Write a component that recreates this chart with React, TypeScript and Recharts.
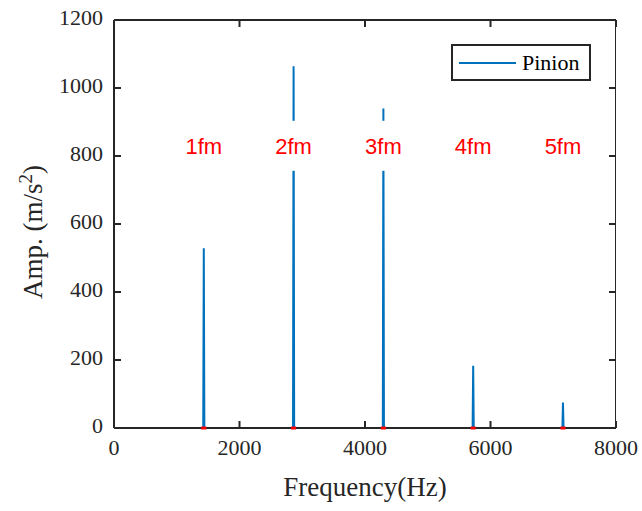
import React from "react";
import {
  LineChart,
  Line,
  Scatter,
  XAxis,
  YAxis,
} from "recharts";

// Mesh-frequency harmonics (Hz) and their peak amplitudes (m/s^2)
const harmonicFreqs = [1431, 2862, 4293, 5724, 7155];
const harmonicAmps = [529, 1064, 940, 183, 75];
const harmonicLabels = ["1fm", "2fm", "3fm", "4fm", "5fm"];
const labelLevel = 830;

const xTicks = [0, 2000, 4000, 6000, 8000];
const yTicks = [0, 200, 400, 600, 800, 1000, 1200];
const X_MAX = 8000;
const Y_MAX = 1200;

const SPIKE_HALF_WIDTH = 9; // Hz, base half-width of each spectral line

const AXIS_COLOR = "#262626";
const LINE_COLOR = "#0072BD";
const SERIF = "'Liberation Serif', 'Times New Roman', serif";
const SANS = "'Liberation Sans', Arial, sans-serif";

// plot box size, used to mirror the inward ticks and close the box
const PLOT_W = 502;
const PLOT_H = 408;

// spectrum: flat floor with a narrow peak at each harmonic
const spectrum: { freq: number; amp: number }[] = [{ freq: 0, amp: 0 }];
harmonicFreqs.forEach((f, i) => {
  spectrum.push({ freq: f - SPIKE_HALF_WIDTH, amp: 0 });
  spectrum.push({ freq: f, amp: harmonicAmps[i] });
  spectrum.push({ freq: f + SPIKE_HALF_WIDTH, amp: 0 });
});
spectrum.push({ freq: X_MAX, amp: 0 });

const baseMarkers = harmonicFreqs.map((f) => ({ freq: f, amp: 0 }));
const labelPoints = harmonicFreqs.map((f, i) => ({
  freq: f,
  amp: labelLevel,
  text: harmonicLabels[i],
}));
// top-left corner of the axes box, anchors the frame outline
const frameCorner = [{ freq: 0, amp: Y_MAX }];

const TICK_LEN = 7;

function BottomTick({ x, y, payload }: any) {
  return (
    <g>
      <line x1={x} x2={x} y1={y} y2={y - TICK_LEN} stroke={AXIS_COLOR} strokeWidth={2} />
      <line x1={x} x2={x} y1={y - PLOT_H} y2={y - PLOT_H + TICK_LEN} stroke={AXIS_COLOR} strokeWidth={2} />
      <text
        x={x}
        y={y + 27}
        textAnchor="middle"
        fontFamily={SERIF}
        fontSize={22}
        fill={AXIS_COLOR}
      >
        {payload.value}
      </text>
    </g>
  );
}

function LeftTick({ x, y, payload }: any) {
  return (
    <g>
      <line x1={x} x2={x + TICK_LEN} y1={y} y2={y} stroke={AXIS_COLOR} strokeWidth={2} />
      <line x1={x + PLOT_W} x2={x + PLOT_W - TICK_LEN} y1={y} y2={y} stroke={AXIS_COLOR} strokeWidth={2} />
      <text
        x={x - 11}
        y={y + 5}
        textAnchor="end"
        fontFamily={SERIF}
        fontSize={22}
        fill={AXIS_COLOR}
      >
        {payload.value}
      </text>
    </g>
  );
}

function FrameBox(props: any) {
  const { cx, cy } = props;
  return (
    <rect
      x={cx}
      y={cy}
      width={PLOT_W}
      height={PLOT_H}
      fill="none"
      stroke={AXIS_COLOR}
      strokeWidth={2}
    />
  );
}

function HarmonicLabel(props: any) {
  const { cx, cy, payload } = props;
  return (
    <g>
      <rect x={cx - 27} y={cy - 25} width={54} height={50} fill="#ffffff" />
      <text
        x={cx}
        y={cy + 8}
        textAnchor="middle"
        fontFamily={SANS}
        fontSize={22}
        fill="#ff0000"
      >
        {payload.text}
      </text>
    </g>
  );
}

function BaseMarker(props: any) {
  const { cx, cy } = props;
  return <rect x={cx - 2.5} y={cy - 1.5} width={5} height={3} fill="#ff0000" />;
}

function LegendBox() {
  return (
    <div
      style={{
        position: "absolute",
        left: 451,
        top: 44,
        width: 136,
        height: 33,
        border: `2px solid ${AXIS_COLOR}`,
        background: "#fff",
        display: "flex",
        alignItems: "center",
        boxSizing: "content-box",
        fontFamily: SERIF,
        fontSize: 22,
        color: "#000",
        zIndex: 2,
      }}
    >
      <div style={{ width: 57, height: 2, background: LINE_COLOR, marginLeft: 6 }} />
      <span style={{ marginLeft: 6, lineHeight: "22px" }}>Pinion</span>
    </div>
  );
}

export default function App() {
  return (
    <div style={{ position: "absolute", left: 0, top: 0, width: 642, height: 511, background: "#fff" }}>
      <LineChart
        width={642}
        height={511}
        data={spectrum}
        margin={{ top: 20, right: 26, bottom: 33, left: 54 }}
      >
        <XAxis
          dataKey="freq"
          type="number"
          domain={[0, X_MAX]}
          ticks={xTicks}
          height={50}
          tickSize={0}
          tickMargin={0}
          tickLine={false}
          tick={<BottomTick />}
          axisLine={{ stroke: AXIS_COLOR, strokeWidth: 2 }}
          allowDataOverflow
        />
        <YAxis
          type="number"
          domain={[0, Y_MAX]}
          ticks={yTicks}
          width={60}
          tickSize={0}
          tickMargin={0}
          tickLine={false}
          tick={<LeftTick />}
          axisLine={{ stroke: AXIS_COLOR, strokeWidth: 2 }}
          label={{
            content: () => (
              <text
                transform="translate(42, 232) rotate(-90)"
                textAnchor="middle"
                fontFamily={SERIF}
                fontSize={27}
                fill={AXIS_COLOR}
              >
                Amp. (m/s
                <tspan dy={-10} fontSize={19}>2</tspan>
                <tspan dy={10}>)</tspan>
              </text>
            ),
          }}
        />
        <Scatter
          data={frameCorner}
          dataKey="amp"
          shape={<FrameBox />}
          isAnimationActive={false}
        />
        <Line
          dataKey="amp"
          type="linear"
          stroke={LINE_COLOR}
          strokeWidth={2}
          dot={false}
          isAnimationActive={false}
        />
        <Scatter
          data={labelPoints}
          dataKey="amp"
          shape={<HarmonicLabel />}
          isAnimationActive={false}
        />
        <Scatter
          data={baseMarkers}
          dataKey="amp"
          shape={<BaseMarker />}
          isAnimationActive={false}
        />
      </LineChart>
      <LegendBox />
      <div
        style={{
          position: "absolute",
          left: 114,
          width: 502,
          top: 472,
          textAlign: "center",
          fontFamily: SERIF,
          fontSize: 27,
          color: AXIS_COLOR,
          lineHeight: "30px",
        }}
      >
        Frequency(Hz)
      </div>
    </div>
  );
}
